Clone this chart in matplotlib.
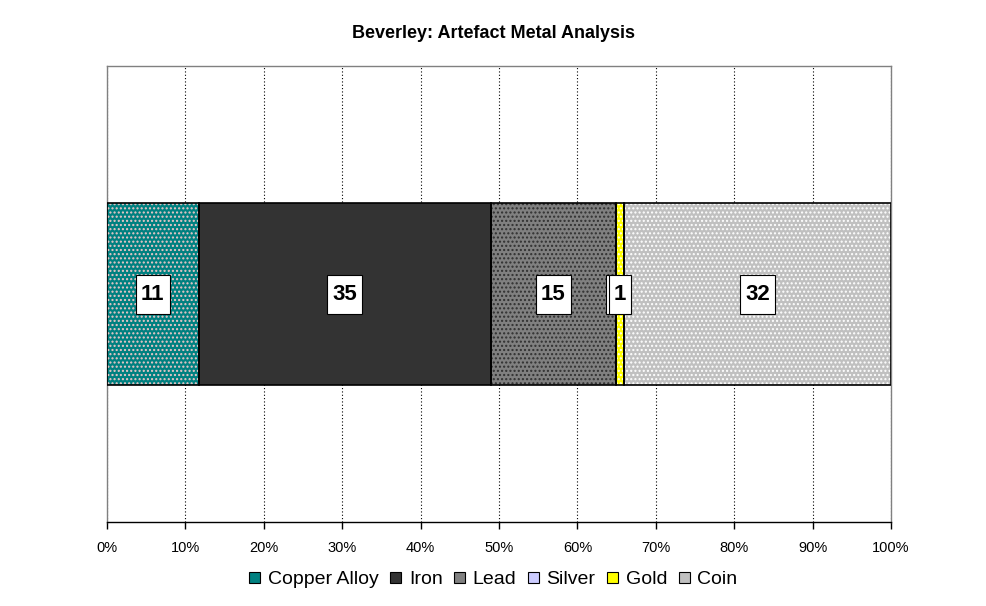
import matplotlib
matplotlib.use('Agg')
import matplotlib.pyplot as plt
import numpy as np
from matplotlib.patches import Patch, Rectangle

plt.rcParams['font.family'] = ['Liberation Sans', 'DejaVu Sans']

categories = ['Copper Alloy', 'Iron', 'Lead', 'Silver', 'Gold', 'Coin']
counts = [11, 35, 15, 0, 1, 32]
face_colors = ['#008080', '#333333', '#808080', '#ccccff', '#ffff00', '#c0c0c0']
hatch_colors = ['#f0c8c8', '#333333', '#303030', '#ccccff', '#ffffff', '#ffffff']
hatches = ['....', None, '....', None, '....', '....']

fig = plt.figure(figsize=(9.87, 6.06), dpi=100)
ax = fig.add_axes([107 / 987, 84 / 606, 784 / 987, 456 / 606])

total = float(sum(counts))
shares = [100.0 * c / total for c in counts]
left = 0.0
for name, share, fc, hc, h in zip(categories, shares, face_colors, hatch_colors, hatches):
    # fill with hatch first, then a plain black outline on top
    ax.barh(0, share, left=left, height=0.6, color=fc, edgecolor=hc, hatch=h, linewidth=0, zorder=3)
    ax.barh(0, share, left=left, height=0.6, fill=False, edgecolor='black', linewidth=1.2, zorder=4)
    left += share

ax.set_xlim(0, 100)
ax.set_ylim(-0.75, 0.75)

# value labels; boxes drawn as patches sized from the text extent
px_x = 100.0 / 784   # data units per pixel
px_y = 1.5 / 456
box_h = 39 * px_y
fig.canvas.draw()
renderer = fig.canvas.get_renderer()
left = 0.0
for i, (c, share) in enumerate(zip(counts, shares)):
    if c == 0:
        # zero label sits hidden behind the neighbouring one
        ax.add_patch(Rectangle((left - 10 * px_x, -box_h / 2), 14 * px_x, box_h, facecolor='white',
                               edgecolor='black', linewidth=0.8, zorder=5))
    else:
        x = left + share / 2
        t = ax.text(x, -1 * px_y, str(c), ha='center', va='center', fontsize=16, fontweight='bold',
                    zorder=7 + 2 * i)
        w = t.get_window_extent(renderer).width + 10
        ax.add_patch(Rectangle((x - w * px_x / 2, -box_h / 2), w * px_x, box_h, facecolor='white',
                               edgecolor='black', linewidth=0.8, zorder=6 + 2 * i))
    left += share

ax.set_yticks([])
ax.set_xticks(np.arange(0, 101, 10))
ax.set_xticklabels(['{}%'.format(v) for v in range(0, 101, 10)], fontsize=10.5)
ax.grid(axis='x', color='black', linestyle=(0, (1, 2)), linewidth=0.8, zorder=0)
ax.tick_params(axis='x', direction='out', length=5, width=1, color='black', pad=9)
for side in ['top', 'left', 'right']:
    ax.spines[side].set_color('#808080')
    ax.spines[side].set_linewidth(1)
ax.spines['bottom'].set_color('black')
ax.spines['bottom'].set_linewidth(1)

fig.text(0.5, 1 - 33 / 606, 'Beverley: Artefact Metal Analysis', ha='center', va='center',
         fontsize=13, fontweight='bold')

handles = [Patch(facecolor=fc, edgecolor='black', linewidth=0.8) for fc in face_colors]
fig.legend(handles, categories, loc='center', bbox_to_anchor=(0.5, 1 - 580 / 606), ncol=6,
           frameon=False, fontsize=14, handlelength=0.55, handleheight=0.55, handletextpad=0.4,
           columnspacing=0.6)

fig.savefig('out.png', dpi=100)
